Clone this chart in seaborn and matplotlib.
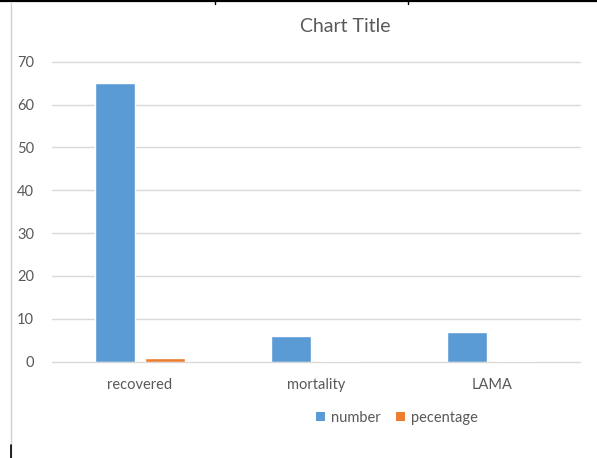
import matplotlib
matplotlib.use("Agg")
import matplotlib.pyplot as plt
from matplotlib.patches import Patch
from matplotlib.lines import Line2D
import pandas as pd
import seaborn as sns

categories = ["recovered", "mortality", "LAMA"]
number = [65, 6, 7]
pecentage = [0.83, 0.08, 0.09]
series = ["number", "pecentage"]
yticks = [0, 10, 20, 30, 40, 50, 60, 70]

df = pd.DataFrame({
    "category": categories * 2,
    "series": [series[0]] * 3 + [series[1]] * 3,
    "value": number + pecentage,
})

sns.set_theme(style="white")
plt.rcParams["font.family"] = ["Lato", "DejaVu Sans"]

text_color = "#595959"
palette = {"number": "#5B9BD5", "pecentage": "#ED7D31"}

fig = plt.figure(figsize=(5.97, 4.58), dpi=100)
ax = fig.add_axes([52 / 597, 1 - 361.7 / 458, 528 / 597, 300 / 458])

sns.barplot(data=df, x="category", y="value", hue="series", order=categories,
            hue_order=series, palette=palette, width=0.568, gap=0.2,
            saturation=1, errorbar=None, legend=False, ax=ax, zorder=3)

ax.set_xlim(-0.5, 2.5)
ax.set_ylim(0, 70)
ax.set_yticks(yticks)
ax.yaxis.grid(True, color="#D9D9D9", linewidth=1.0, zorder=0)
for gl in ax.get_ygridlines():
    gl.set_clip_on(False)
ax.set_axisbelow(True)
for s in ax.spines.values():
    s.set_visible(False)
ax.set_xlabel("")
ax.set_ylabel("")
ax.tick_params(axis="both", length=0, labelsize=10.5, labelcolor=text_color)
ax.tick_params(axis="y", pad=13)
ax.tick_params(axis="x", pad=12)

fig.text(345 / 597, 1 - 27 / 458, "Chart Title", ha="center", va="center",
         fontsize=14, color=text_color)

handles = [Patch(facecolor=palette[s], edgecolor="none") for s in series]
fig.legend(handles, series, loc="center", bbox_to_anchor=(397 / 597, 1 - 418 / 458),
           ncol=2, frameon=False, fontsize=10.5, labelcolor=text_color,
           handlelength=0.6, handleheight=0.6, handletextpad=0.4, columnspacing=1.1)

# page borders around the chart
fig.add_artist(Line2D([0, 1], [1 - 0.8 / 458] * 2, color="black", linewidth=1.6,
                      transform=fig.transFigure))
for xv in [215, 408]:
    fig.add_artist(Line2D([xv / 597] * 2, [1, 1 - 4 / 458], color="black", linewidth=1.0,
                          transform=fig.transFigure))
fig.add_artist(Line2D([10.5 / 597] * 2, [0, 1 - 3 / 458], color="#D0D0D0", linewidth=1.0,
                      transform=fig.transFigure))
fig.add_artist(Line2D([10.5 / 597] * 2, [0, 13 / 458], color="black", linewidth=1.2,
                      transform=fig.transFigure))

fig.savefig("out.png", dpi=100)
